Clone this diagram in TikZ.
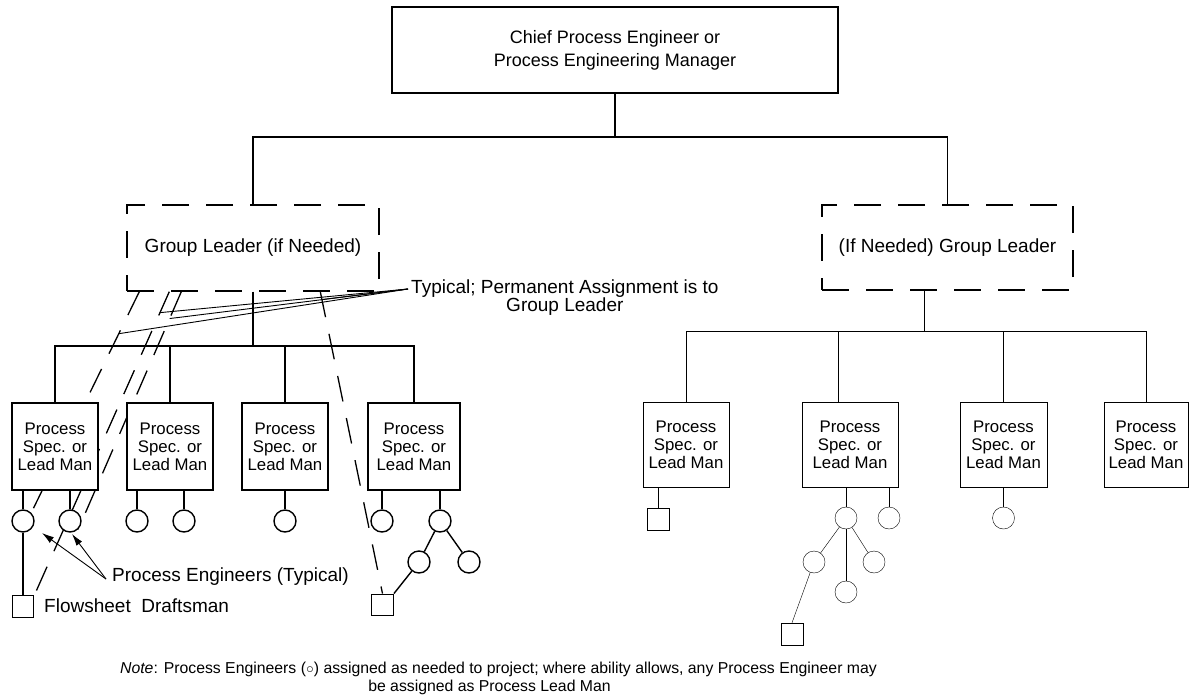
\documentclass[tikz,border=0pt]{standalone}
\usepackage{fontspec}
\setmainfont{Liberation Sans}
\usetikzlibrary{arrows.meta,calc}
\pgfdeclarelayer{bg}
\pgfsetlayers{bg,main}
\begin{document}
\begin{tikzpicture}[x=1pt,y=-1pt,line width=1.4pt,
  chiefbox/.style={draw,fill=white,rectangle,inner sep=0pt,align=center,minimum width=446pt,minimum height=86pt,font=\fontsize{18}{23}\selectfont},
  glbox/.style={draw,fill=white,rectangle,inner sep=0pt,align=center,minimum width=252pt,minimum height=86pt,dash pattern=on 27pt off 17pt,font=\fontsize{19}{22}\selectfont},
  specbox/.style={draw,fill=white,rectangle,inner sep=0pt,align=center,minimum height=87pt,font=\fontsize{16.8}{18}\selectfont},
  eng/.style={draw,fill=white,circle,inner sep=0pt,minimum size=22pt},
  drafts/.style={draw,fill=white,rectangle,inner sep=0pt,minimum size=21.5pt},
  ldash/.style={line width=1.3pt,dash pattern=on 26pt off 17pt},
  leader/.style={line width=0.9pt},
  anno/.style={inner sep=0pt,font=\fontsize{19}{20}\selectfont},
  notetext/.style={inner sep=0pt,font=\fontsize{15.8}{17}\selectfont},
  arr/.style={line width=0.9pt,-{Latex[length=12pt,width=7pt]}}
]
\useasboundingbox (0,0) rectangle (1193,698);

% top
\node[chiefbox] (chief) at (615,50) {Chief Process Engineer or\\Process Engineering Manager};
\node[glbox] (gl1) at (253,248) {Group Leader (if Needed)};
\node[glbox,minimum width=251pt,minimum height=85pt] (gl2) at (947.5,247.5) {(If Needed) Group Leader};
\coordinate (busT) at (0,137);
\draw (chief.south) -- (chief.south |- busT);
\draw (gl1.north) -- (gl1.north |- busT) -- (gl2.north |- busT) -- (gl2.north);

% left group boxes
\node[specbox,minimum width=86pt] (b1) at (55,446.5) {Process\\Spec. or\\Lead Man};
\node[specbox,minimum width=86pt] (b2) at (170,446.5) {Process\\Spec. or\\Lead Man};
\node[specbox,minimum width=86pt] (b3) at (285,446.5) {Process\\Spec. or\\Lead Man};
\node[specbox,minimum width=92pt] (b4) at (414,446.5) {Process\\Spec. or\\Lead Man};
\coordinate (busL) at (0,346);
\draw (gl1.south) -- (gl1.south |- busL);
\draw (b1.north) -- (b1.north |- busL) -- (b4.north |- busL) -- (b4.north);
\draw (b2.north) -- (b2.north |- busL);
\draw (b3.north) -- (b3.north |- busL);

% left engineers
\node[eng] (c11) at (23,521) {};
\node[eng] (c12) at (70,521) {};
\node[eng] (c21) at (137,521) {};
\node[eng] (c22) at (184,521) {};
\node[eng] (c31) at (285,521) {};
\node[eng] (c41) at (382,521) {};
\node[eng] (c42) at (440,521) {};
\node[eng] (c43) at (419,562) {};
\node[eng] (c44) at (469,562) {};
\node[drafts] (s1) at (23,606.5) {};
\node[drafts] (s2) at (382.5,605) {};
\foreach \b/\c in {b1/c11,b1/c12,b2/c21,b2/c22,b3/c31,b4/c41,b4/c42}
  \draw (\b.south -| \c) -- (\c);
\draw (c11) -- (s1);
\draw (c42) -- (c43);
\draw (c42) -- (c44);
\draw (s2.north east) -- (c43);

% dashed temporary assignments (behind the boxes)
\coordinate (da) at ($(gl1.south west)+(13,0)$);
\coordinate (db) at ($(gl1.south west)+(43,0)$);
\coordinate (dc) at ($(gl1.south west)+(55,0)$);
\coordinate (de) at ($(gl1.south west)+(194,0)$);
\begin{pgfonlayer}{bg}
\draw[ldash] (da) -- coordinate[pos=0.19] (la) (c11.north east);
\draw[ldash] (db) -- coordinate[pos=0.069] (lb) (s1.north east);
\draw[ldash] (dc) -- coordinate[pos=0.113] (lc) (c12.south east);
\draw[ldash] (de) -- coordinate[pos=0.026] (le) (s2.north);
\end{pgfonlayer}

% Typical annotation
\node[anno,anchor=west] (typ1) at (411,289) {Typical; Permanent Assignment is to};
\node[anno] (typ2) at ($(typ1.center)+(0,18)$) {Group Leader};
\coordinate (tl) at ($(typ1.west)+(-3,0)$);
\foreach \p in {la,lb,lc,le} \draw[leader] (tl) -- (\p);

% Process engineers annotation
\node[anno,anchor=west] (pe) at (112,577) {Process Engineers (Typical)};
\coordinate (pes) at ($(pe.west)+(-6,2)$);
\draw[arr] (pes) -- ($(c11)+(19,12)$);
\draw[arr] (pes) -- ($(c12)+(2,13)$);
\node[anno,anchor=west] (fd) at (44,606) {Flowsheet\ \ Draftsman};

% right group
\node[specbox,minimum width=86pt,minimum height=85pt] (b5) at (686,444.5) {Process\\Spec. or\\Lead Man};
\node[specbox,minimum width=96pt,minimum height=85pt] (b6) at (850,444.5) {Process\\Spec. or\\Lead Man};
\node[specbox,minimum width=87pt,minimum height=85pt] (b7) at (1003.5,444.5) {Process\\Spec. or\\Lead Man};
\node[specbox,minimum width=84pt,minimum height=85pt] (b8) at (1146,444.5) {Process\\Spec. or\\Lead Man};
\coordinate (busR) at (0,331);
\coordinate (g2s) at ($(gl2.south)+(-23.5,0)$);
\coordinate (b6t) at ($(b6.north)+(-12,0)$);
\draw (g2s) -- (g2s |- busR);
\draw (b5.north) -- (b5.north |- busR) -- (b8.north |- busR) -- (b8.north);
\draw (b6t) -- (b6t |- busR);
\draw (b7.north) -- (b7.north |- busR);

\node[drafts,minimum size=22pt] (s3) at (658.5,519) {};
\node[eng] (r1) at (846,518) {};
\node[eng] (r2) at (889,518) {};
\node[eng] (r3) at (814,562) {};
\node[eng] (r4) at (874,562) {};
\node[eng] (r5) at (846,592) {};
\node[drafts,minimum size=22pt] (s4) at (792,634) {};
\node[eng] (r6) at (1003.5,518) {};
\draw (b5.south -| s3) -- (s3);
\draw (b6.south -| r1) -- (r1);
\draw (b6.south -| r2) -- (r2);
\draw (r1) -- (r3);
\draw (r1) -- (r4);
\draw (r1) -- (r5);
\draw (r3) -- (s4.north);
\draw (b7.south -| r6) -- (r6);

% note
\node[notetext] (note1) at (498.5,669) {\textit{Note}: Process Engineers ({\fontsize{13}{13}\selectfont ○}) assigned as needed to project; where ability allows, any Process Engineer may};
\node[notetext] (note2) at (489.5,687) {be assigned as Process Lead Man};
\end{tikzpicture}
\end{document}
